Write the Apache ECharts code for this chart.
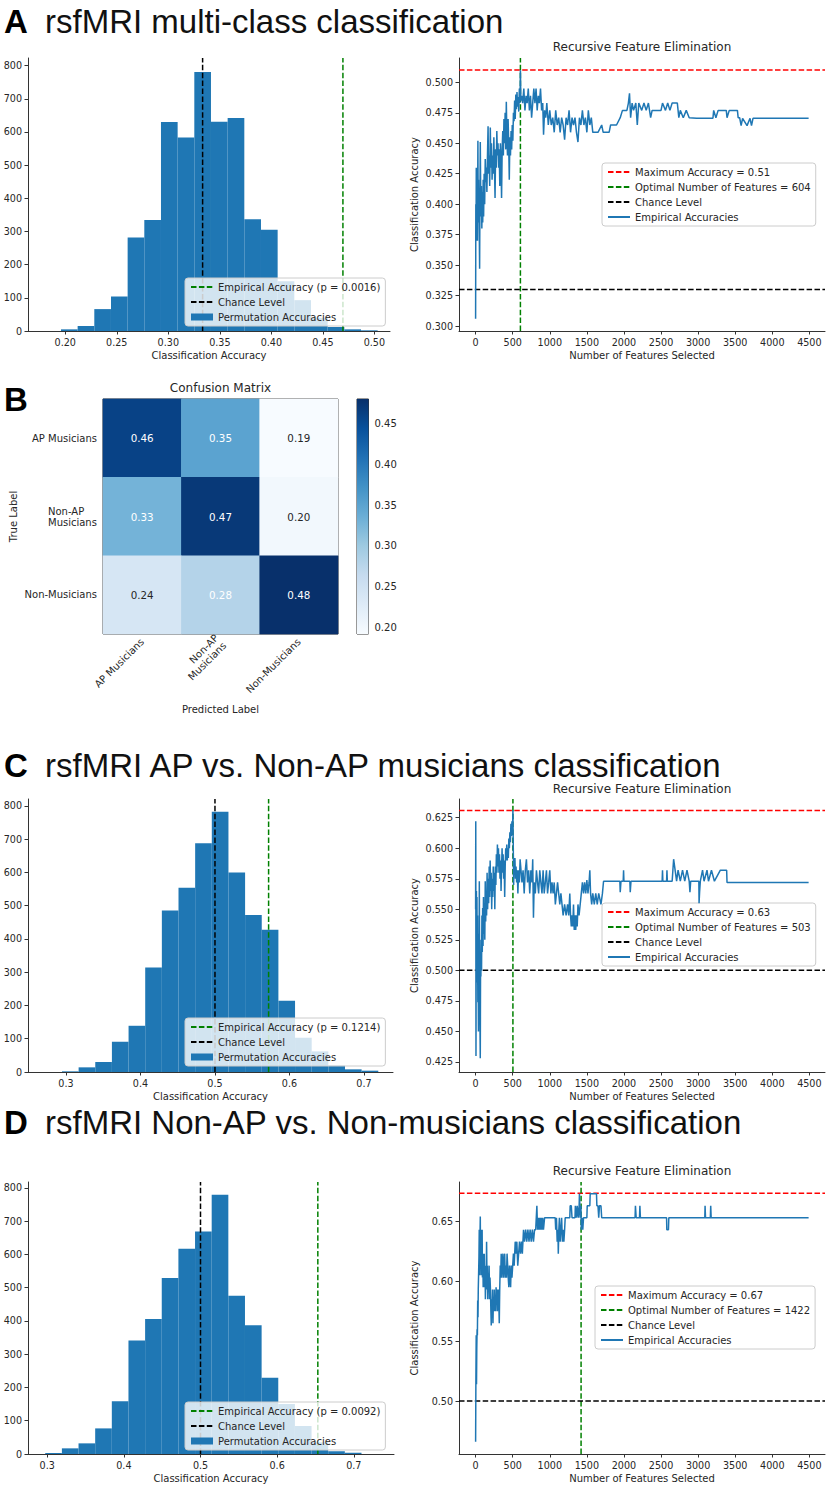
<!DOCTYPE html>
<html>
<head>
<meta charset="utf-8">
<script src="https://cdn.jsdelivr.net/npm/echarts@6/dist/echarts.min.js"></script>
<style>
  html, body { margin: 0; padding: 0; background: #fff; }
  #chart { width: 828px; height: 1488px; }
</style>
</head>
<body>
<div id="chart"></div>
<script>
// ---- permutation histograms (bin start, bin width, counts) ----
var histStartA = 0.1958, histWidthA = 0.01618;
var histCountsA = [5, 15, 66, 104, 282, 335, 630, 583, 781, 631, 642, 337, 305, 150, 93, 40, 12, 5, 2];
var histStartC = 0.2946, histWidthC = 0.02235;
var histCountsC = [2, 14, 30, 91, 139, 314, 486, 554, 688, 783, 600, 472, 428, 214, 103, 62, 20, 8, 4];
var histStartD = 0.2974, histWidthD = 0.02172;
var histCountsD = [3, 17, 32, 77, 159, 341, 406, 529, 617, 669, 780, 476, 387, 229, 150, 84, 35, 8, 4];
var histYTicks = [0, 100, 200, 300, 400, 500, 600, 700, 800];

// empirical accuracy and chance level per panel
var empiricalA = 0.4695, chanceA = 0.3333;
var empiricalC = 0.572, chanceC = 0.5;
var empiricalD = 0.6531, chanceD = 0.5;

// ---- recursive feature elimination curves [features, accuracy] ----
var rfeA = [[0,0.306],[3,0.40],[6,0.37],[9,0.43],[12,0.38],[15,0.42],[18,0.39],[21,0.43],[25,0.37],[28,0.41],
  [31,0.452],[34,0.40],[38,0.42],[42,0.385],[46,0.41],[50,0.375],[54,0.347],[58,0.40],[63,0.451],[67,0.42],
  [72,0.39],[78,0.415],[84,0.38],[90,0.41],[96,0.385],[102,0.42],[108,0.39],[115,0.425],[122,0.40],[130,0.437],
  [137,0.418],[144,0.43],[152,0.41],[160,0.44],[168,0.464],[175,0.425],[182,0.44],[190,0.415],[198,0.463],[206,0.43],
  [214,0.45],[222,0.42],[230,0.44],[238,0.425],[246,0.455],[254,0.43],[262,0.405],[270,0.445],[278,0.43],[286,0.46],
  [294,0.44],[302,0.45],[310,0.43],[318,0.445],[326,0.415],[334,0.45],[342,0.435],[350,0.405],[358,0.445],[366,0.46],
  [374,0.44],[382,0.47],[390,0.45],[398,0.475],[406,0.445],[414,0.484],[422,0.455],[430,0.44],[438,0.47],[446,0.45],
  [454,0.42],[462,0.455],[470,0.44],[478,0.46],[486,0.445],[494,0.465],[502,0.452],[510,0.475],[518,0.468],[526,0.485],
  [534,0.47],[542,0.49],[550,0.478],[558,0.492],[566,0.48],[574,0.488],[582,0.476],[590,0.495],[598,0.483],[604,0.51],
  [610,0.485],[620,0.489],[635,0.483],[650,0.495],[665,0.477],[680,0.489],[695,0.483],[710,0.495],[725,0.477],[740,0.489],
  [755,0.471],[770,0.483],[785,0.495],[800,0.483],[815,0.495],[830,0.477],[845,0.489],[860,0.483],[875,0.495],[890,0.477],
  [905,0.483],[916,0.457],[930,0.477],[945,0.471],[960,0.483],[980,0.465],[1000,0.477],[1020,0.465],[1040,0.471],[1060,0.459],
  [1080,0.477],[1100,0.465],[1120,0.471],[1140,0.459],[1160,0.471],[1180,0.465],[1200,0.453],[1220,0.471],[1240,0.465],[1260,0.477],
  [1280,0.459],[1300,0.471],[1320,0.465],[1340,0.471],[1360,0.459],[1380,0.451],[1400,0.471],[1420,0.465],[1440,0.477],[1460,0.465],
  [1480,0.471],[1500,0.459],[1520,0.477],[1540,0.465],[1560,0.471],[1580,0.459],[1650,0.459],[1700,0.465],[1720,0.459],[1800,0.459],
  [1820,0.465],[1900,0.465],[1950,0.471],[1980,0.477],[2040,0.477],[2060,0.483],[2075,0.491],[2090,0.471],[2110,0.483],[2130,0.477],
  [2160,0.483],[2180,0.465],[2200,0.483],[2240,0.477],[2270,0.483],[2300,0.477],[2330,0.483],[2360,0.471],[2380,0.477],[2500,0.477],
  [2520,0.483],[2560,0.477],[2590,0.483],[2620,0.477],[2650,0.483],[2720,0.483],[2740,0.471],[2760,0.477],[2800,0.471],[2840,0.477],
  [2880,0.471],[2980,0.4705],[3200,0.4705],[3210,0.477],[3240,0.471],[3270,0.477],[3380,0.477],[3390,0.471],[3420,0.477],[3530,0.477],
  [3540,0.471],[3560,0.471],[3580,0.4645],[3600,0.4705],[3660,0.4645],[3700,0.4705],[3720,0.4645],[3740,0.4705],[4490,0.4705]];

var rfeC = [[0,0.55],[2,0.622],[5,0.43],[8,0.52],[11,0.565],[14,0.49],[18,0.56],[22,0.50],[26,0.545],[30,0.474],
  [34,0.53],[38,0.45],[42,0.52],[46,0.49],[50,0.573],[54,0.50],[58,0.46],[63,0.428],[67,0.51],[71,0.495],
  [75,0.525],[80,0.50],[85,0.545],[90,0.515],[95,0.551],[100,0.52],[106,0.56],[112,0.53],[118,0.555],[124,0.525],
  [130,0.573],[136,0.54],[142,0.565],[148,0.545],[155,0.58],[162,0.55],[169,0.575],[176,0.555],[183,0.585],[190,0.56],
  [196,0.59],[203,0.565],[210,0.58],[217,0.55],[224,0.575],[231,0.56],[238,0.585],[245,0.565],[252,0.58],[259,0.55],
  [266,0.585],[273,0.57],[280,0.595],[287,0.58],[294,0.603],[301,0.585],[308,0.6],[315,0.58],[322,0.595],[329,0.575],
  [336,0.59],[343,0.565],[350,0.585],[357,0.6],[364,0.58],[371,0.595],[378,0.575],[385,0.59],[392,0.56],[399,0.585],
  [406,0.6],[413,0.59],[420,0.603],[427,0.59],[434,0.6],[441,0.592],[448,0.608],[455,0.6],[462,0.613],[469,0.605],
  [476,0.62],[483,0.61],[490,0.622],[497,0.612],[503,0.631],[508,0.6],[513,0.57],[518,0.59],[524,0.58],[530,0.592],
  [537,0.575],[545,0.585],[553,0.572],[561,0.582],[570,0.563],[580,0.582],[590,0.572],[600,0.591],[612,0.582],[625,0.572],
  [640,0.582],[655,0.563],[670,0.582],[685,0.591],[700,0.572],[715,0.582],[730,0.563],[745,0.582],[760,0.572],[770,0.591],
  [780,0.543],[790,0.572],[805,0.563],[820,0.582],[835,0.572],[850,0.563],[865,0.582],[880,0.572],[895,0.563],[910,0.582],
  [925,0.563],[940,0.572],[955,0.582],[970,0.563],[985,0.572],[1000,0.582],[1015,0.563],[1030,0.572],[1045,0.563],[1060,0.572],
  [1075,0.554],[1090,0.563],[1105,0.572],[1120,0.563],[1135,0.554],[1150,0.563],[1165,0.554],[1180,0.545],[1200,0.554],[1220,0.545],
  [1240,0.554],[1255,0.545],[1270,0.563],[1280,0.545],[1290,0.536],[1300,0.545],[1310,0.536],[1320,0.554],[1330,0.533],[1340,0.545],
  [1350,0.533],[1360,0.545],[1370,0.536],[1380,0.554],[1395,0.545],[1410,0.554],[1425,0.563],[1440,0.572],[1455,0.563],[1470,0.572],
  [1485,0.563],[1500,0.574],[1515,0.563],[1530,0.572],[1540,0.582],[1550,0.563],[1565,0.554],[1580,0.563],[1600,0.554],[1620,0.563],
  [1640,0.554],[1660,0.563],[1690,0.554],[1710,0.563],[1725,0.573],[1945,0.573],[1950,0.564],[1960,0.573],[1990,0.573],[1995,0.582],
  [2000,0.573],[2080,0.573],[2085,0.564],[2095,0.573],[2515,0.573],[2520,0.582],[2525,0.573],[2575,0.573],[2580,0.582],[2585,0.573],
  [2650,0.573],[2660,0.582],[2670,0.591],[2690,0.582],[2710,0.573],[2730,0.582],[2760,0.573],[2790,0.582],[2820,0.573],[2850,0.582],
  [2880,0.573],[2890,0.564],[2900,0.573],[3010,0.573],[3013,0.555],[3020,0.564],[3030,0.573],[3060,0.582],[3080,0.573],[3120,0.582],
  [3140,0.573],[3180,0.582],[3220,0.573],[3300,0.582],[3385,0.582],[3390,0.572],[4490,0.572]];

var rfeD = [[0,0.466],[4,0.52],[8,0.555],[12,0.514],[16,0.545],[20,0.56],[24,0.555],[28,0.584],[32,0.57],[36,0.594],
  [40,0.605],[45,0.62],[49,0.643],[53,0.605],[58,0.633],[63,0.654],[67,0.613],[71,0.643],[75,0.605],[79,0.633],
  [83,0.613],[88,0.643],[92,0.603],[97,0.623],[102,0.595],[107,0.613],[112,0.603],[117,0.623],[122,0.595],[127,0.613],
  [132,0.585],[137,0.605],[142,0.593],[148,0.633],[153,0.603],[158,0.613],[164,0.585],[170,0.603],[176,0.595],[182,0.613],
  [188,0.585],[194,0.603],[200,0.593],[206,0.575],[211,0.563],[216,0.585],[222,0.575],[228,0.593],[234,0.565],[240,0.585],
  [246,0.575],[252,0.593],[258,0.575],[264,0.585],[270,0.575],[276,0.595],[282,0.585],[288,0.593],[294,0.575],[300,0.585],
  [306,0.593],[312,0.585],[319,0.565],[325,0.593],[332,0.613],[338,0.603],[345,0.623],[352,0.603],[360,0.613],[368,0.623],
  [376,0.603],[384,0.613],[392,0.623],[400,0.603],[408,0.613],[416,0.603],[424,0.623],[432,0.613],[440,0.603],[448,0.595],
  [456,0.613],[464,0.603],[472,0.595],[480,0.613],[490,0.603],[500,0.613],[510,0.623],[520,0.613],[534,0.633],[545,0.623],
  [556,0.633],[568,0.613],[580,0.623],[592,0.633],[605,0.623],[618,0.633],[630,0.623],[646,0.643],[660,0.633],[675,0.643],
  [690,0.633],[705,0.643],[720,0.633],[735,0.643],[750,0.633],[765,0.643],[780,0.633],[795,0.643],[810,0.643],[826,0.663],
  [835,0.643],[845,0.653],[855,0.643],[865,0.653],[875,0.643],[885,0.653],[895,0.643],[905,0.653],[915,0.643],[930,0.653],
  [1073,0.653],[1080,0.643],[1090,0.653],[1100,0.633],[1110,0.643],[1115,0.623],[1122,0.643],[1130,0.653],[1140,0.633],[1150,0.643],
  [1160,0.653],[1170,0.633],[1180,0.643],[1190,0.633],[1200,0.643],[1208,0.653],[1270,0.653],[1275,0.663],[1290,0.663],[1300,0.653],
  [1340,0.653],[1345,0.663],[1360,0.653],[1370,0.663],[1385,0.653],[1396,0.663],[1400,0.673],[1410,0.653],[1420,0.663],[1425,0.643],
  [1435,0.653],[1445,0.643],[1455,0.653],[1500,0.653],[1505,0.663],[1540,0.663],[1545,0.673],[1630,0.673],[1635,0.663],[1650,0.663],
  [1660,0.653],[1670,0.663],[1690,0.663],[1700,0.653],[2150,0.653],[2155,0.663],[2165,0.653],[2210,0.653],[2215,0.663],[2222,0.653],
  [2575,0.653],[2578,0.643],[2600,0.643],[2605,0.653],[3090,0.653],[3094,0.663],[3100,0.653],[3165,0.653],[3170,0.663],[3176,0.653],
  [4490,0.653]];

var maxAccA = 0.5102, optimalA = 604;
var maxAccC = 0.6308, optimalC = 503;
var maxAccD = 0.6735, optimalD = 1422;
var rfeXTicks = [0, 500, 1000, 1500, 2000, 2500, 3000, 3500, 4000, 4500];

// ---- confusion matrix ----
var classNames = ['AP Musicians', 'Non-AP\nMusicians', 'Non-Musicians'];
var confusion = [
  [0.46, 0.35, 0.19],
  [0.33, 0.47, 0.20],
  [0.24, 0.28, 0.48]
];
var colorbarMin = 0.1923, colorbarMax = 0.4797;
var colorbarTicks = [0.20, 0.25, 0.30, 0.35, 0.40, 0.45];

var blue = '#1f77b4';
var ink = '#262626';
var fontMpl = 'DejaVu Sans';
var fontHead = 'Liberation Sans, Arial, sans-serif';
var dash = [5.5, 2.4];
var blues = ['#f7fbff', '#deebf7', '#c6dbef', '#9ecae1', '#6baed6', '#4292c6', '#2171b5', '#08519c', '#08306b'];

var grids = [], xAxes = [], yAxes = [], series = [], legends = [], graphics = [];

function addGrid(g) {
  g.outerBoundsMode = 'none';
  grids.push(g);
  return grids.length - 1;
}

function valAxis(gi, min, max, ticks, dec, name, gap) {
  return {
    gridIndex: gi, type: 'value', min: min, max: max,
    splitLine: { show: false },
    axisLine: { show: true, onZero: false, lineStyle: { color: '#333', width: 1 } },
    axisTick: { show: true, length: 3.5, customValues: ticks, lineStyle: { color: '#333' } },
    axisLabel: {
      customValues: ticks, margin: 6, color: ink, fontFamily: fontMpl, fontSize: 9.6,
      formatter: function (v) { return dec ? v.toFixed(dec) : String(v); }
    },
    name: name, nameLocation: 'middle', nameGap: gap,
    nameTextStyle: { color: ink, fontFamily: fontMpl, fontSize: 10 }
  };
}

function legendBox(left, top, names) {
  return {
    left: left, top: top, orient: 'vertical', align: 'left',
    padding: [3, 5, 3, 5], itemGap: 3, itemWidth: 22, itemHeight: 7,
    backgroundColor: 'rgba(255,255,255,0.8)', borderColor: '#cccccc', borderWidth: 1, borderRadius: 3,
    textStyle: { color: ink, fontFamily: fontMpl, fontSize: 10, lineHeight: 12 },
    // line legends: hide the marker symbol, keep only the (dashed) line
    itemStyle: { opacity: 0 },
    selectedMode: false,
    data: names
  };
}

function vline(name, gi, x, y0, y1, color, z) {
  return {
    type: 'line', name: name, xAxisIndex: gi, yAxisIndex: gi, data: [[x, y0], [x, y1]],
    symbol: 'none', lineStyle: { color: color, width: 1.5, type: dash }, itemStyle: { color: color },
    z: z, silent: true
  };
}
function hline(name, gi, y, x0, x1, color, z) {
  return {
    type: 'line', name: name, xAxisIndex: gi, yAxisIndex: gi, data: [[x0, y], [x1, y]],
    symbol: 'none', lineStyle: { color: color, width: 1.5, type: dash }, itemStyle: { color: color },
    z: z, silent: true
  };
}

function histRect(params, api) {
  var p0 = api.coord([api.value(0), api.value(2)]);
  var p1 = api.coord([api.value(1), 0]);
  return {
    type: 'rect',
    shape: { x: p0[0], y: p0[1], width: p1[0] - p0[0], height: p1[1] - p0[1] },
    style: { fill: blue }
  };
}

function addHist(p) {
  var gi = addGrid(p.grid);
  xAxes.push(valAxis(gi, p.xMin, p.xMax, p.xTicks, p.dec, 'Classification Accuracy', 19));
  yAxes.push(valAxis(gi, 0, p.yMax, histYTicks, 0, '', 0));
  var bins = p.counts.map(function (n, i) {
    return [p.start + i * p.width, p.start + (i + 1) * p.width, n];
  });
  series.push({
    type: 'custom', name: 'Permutation Accuracies', xAxisIndex: gi, yAxisIndex: gi,
    data: bins, encode: { x: [0, 1], y: 2 }, renderItem: histRect,
    itemStyle: { color: blue }, z: 2, silent: true
  });
  series.push(vline(p.empLabel, gi, p.emp, 0, p.yMax, 'green', 3));
  series.push(vline('Chance Level', gi, p.chance, 0, p.yMax, '#000', 3));
  legends.push(legendBox(p.legend[0], p.legend[1], [
    p.empLabel, 'Chance Level',
    { name: 'Permutation Accuracies', icon: 'rect', itemStyle: { opacity: 1, color: blue } }
  ]));
}

function addRfe(p) {
  var gi = addGrid(p.grid);
  xAxes.push(valAxis(gi, p.xMin, p.xMax, rfeXTicks, 0, 'Number of Features Selected', 19));
  yAxes.push(valAxis(gi, p.yMin, p.yMax, p.yTicks, p.dec, 'Classification Accuracy', 40));
  var maxName = 'Maximum Accuracy = ' + p.maxAcc.toFixed(2);
  var optName = 'Optimal Number of Features = ' + p.optimal;
  series.push(hline(maxName, gi, p.maxAcc, p.xMin, p.xMax, 'red', 3));
  series.push(vline(optName, gi, p.optimal, p.yMin, p.yMax, 'green', 3));
  series.push(hline('Chance Level', gi, p.chance, p.xMin, p.xMax, '#000', 3));
  series.push({
    type: 'line', name: 'Empirical Accuracies', xAxisIndex: gi, yAxisIndex: gi, data: p.data,
    symbol: 'none', lineStyle: { color: blue, width: 1.5 }, itemStyle: { color: blue }, z: 4, silent: true
  });
  legends.push(legendBox(p.legend[0], p.legend[1], [maxName, optName, 'Chance Level', 'Empirical Accuracies']));
  graphics.push({
    type: 'text', x: p.grid.left + p.grid.width / 2, y: p.titleY,
    style: { text: 'Recursive Feature Elimination', fill: ink, font: '12px "DejaVu Sans"', textAlign: 'center', textVerticalAlign: 'middle' }
  });
}

function heading(letter, text, y) {
  graphics.push({ type: 'text', x: 4, y: y,
    style: { text: letter, fill: '#000', font: 'bold 33px ' + fontHead, textVerticalAlign: 'middle' } });
  if (text) {
    graphics.push({ type: 'text', x: 45, y: y,
      style: { text: text, fill: '#111', font: '33px ' + fontHead, textVerticalAlign: 'middle' } });
  }
}

// ---- panel A ----
heading('A', 'rsfMRI multi-class classification', 21);
addHist({
  grid: { left: 28, top: 58, width: 362, height: 273 },
  xMin: 0.1638, xMax: 0.5152, yMax: 823, xTicks: [0.20, 0.25, 0.30, 0.35, 0.40, 0.45, 0.50], dec: 2,
  start: histStartA, width: histWidthA, counts: histCountsA,
  emp: empiricalA, chance: chanceA, empLabel: 'Empirical Accuracy (p = 0.0016)', legend: [185, 278]
});
addRfe({
  grid: { left: 459, top: 58, width: 366, height: 273 }, titleY: 47,
  xMin: -224, xMax: 4711, yMin: 0.2959, yMax: 0.52,
  yTicks: [0.300, 0.325, 0.350, 0.375, 0.400, 0.425, 0.450, 0.475, 0.500], dec: 3,
  maxAcc: maxAccA, optimal: optimalA, chance: 0.33, data: rfeA, legend: [602, 163]
});

// ---- panel B: confusion matrix ----
heading('B', '', 399);
var giHeat = addGrid({ left: 103, top: 399, width: 235, height: 235, show: true, borderColor: '#333', borderWidth: 1 });
xAxes.push({
  gridIndex: giHeat, type: 'category', data: classNames,
  axisLine: { show: false }, splitLine: { show: false },
  axisTick: { alignWithLabel: true, length: 3.5, lineStyle: { color: '#333' } },
  axisLabel: { interval: 0, rotate: 45, margin: 6, color: ink, fontFamily: fontMpl, fontSize: 10, lineHeight: 11 },
  name: 'Predicted Label', nameLocation: 'middle', nameGap: 70,
  nameTextStyle: { color: ink, fontFamily: fontMpl, fontSize: 10 }
});
yAxes.push({
  gridIndex: giHeat, type: 'category', data: classNames, inverse: true,
  axisLine: { show: false }, splitLine: { show: false },
  axisTick: { alignWithLabel: true, length: 3.5, lineStyle: { color: '#333' } },
  axisLabel: {
    interval: 0, margin: 6, color: ink, fontFamily: fontMpl, fontSize: 10, lineHeight: 11,
    // two-line label: lines left-aligned inside the block, as matplotlib does
    formatter: function (v) {
      return v.indexOf('\n') < 0 ? v : v.split('\n').map(function (s) { return '{l|' + s + '}'; }).join('\n');
    },
    rich: { l: { align: 'left', width: 49, fontFamily: fontMpl, fontSize: 10, lineHeight: 11, color: ink } }
  },
  name: 'True Label', nameLocation: 'middle', nameGap: 85,
  nameTextStyle: { color: ink, fontFamily: fontMpl, fontSize: 10 }
});
// text colour switches at half of the largest cell value
var textThreshold = Math.max.apply(null, confusion.map(function (r) { return Math.max.apply(null, r); })) / 2;
var heatData = [];
confusion.forEach(function (row, r) {
  row.forEach(function (v, c) {
    heatData.push({ value: [c, r, v], label: { color: v > textThreshold + 1e-9 ? '#fff' : ink } });
  });
});
var heatIndex = series.length;
series.push({
  type: 'heatmap', xAxisIndex: giHeat, yAxisIndex: giHeat, data: heatData, silent: true,
  label: { show: true, fontFamily: fontMpl, fontSize: 10.3, formatter: function (p) { return p.value[2].toFixed(2); } }
});
graphics.push({
  type: 'text', x: 103 + 235 / 2, y: 388,
  style: { text: 'Confusion Matrix', fill: ink, font: '12px "DejaVu Sans"', textAlign: 'center', textVerticalAlign: 'middle' }
});

// colorbar
var giBar = addGrid({ left: 357, top: 399, width: 11.5, height: 235, show: true, borderColor: '#333', borderWidth: 1 });
xAxes.push({ gridIndex: giBar, type: 'value', min: 0, max: 1, show: false });
yAxes.push({
  gridIndex: giBar, type: 'value', position: 'right', min: colorbarMin, max: colorbarMax,
  splitLine: { show: false }, axisLine: { show: false },
  axisTick: { show: true, length: 3.5, customValues: colorbarTicks, lineStyle: { color: '#333' } },
  axisLabel: { customValues: colorbarTicks, margin: 6, color: ink, fontFamily: fontMpl, fontSize: 10,
    formatter: function (v) { return v.toFixed(2); } }
});
series.push({
  type: 'custom', xAxisIndex: giBar, yAxisIndex: giBar, silent: true,
  data: [[0, colorbarMin, 1, colorbarMax]],
  renderItem: function (params, api) {
    var p0 = api.coord([api.value(0), api.value(3)]);
    var p1 = api.coord([api.value(2), api.value(1)]);
    var stops = blues.slice().reverse().map(function (c, i) { return { offset: i / (blues.length - 1), color: c }; });
    return {
      type: 'rect',
      shape: { x: p0[0], y: p0[1], width: p1[0] - p0[0], height: p1[1] - p0[1] },
      style: { fill: new echarts.graphic.LinearGradient(0, 0, 0, 1, stops) }
    };
  }
});

// ---- panel C ----
heading('C', 'rsfMRI AP vs. Non-AP musicians classification', 765);
addHist({
  grid: { left: 28, top: 799, width: 365, height: 273 },
  xMin: 0.249, xMax: 0.739, yMax: 821, xTicks: [0.3, 0.4, 0.5, 0.6, 0.7], dec: 1,
  start: histStartC, width: histWidthC, counts: histCountsC,
  emp: empiricalC, chance: chanceC, empLabel: 'Empirical Accuracy (p = 0.1214)', legend: [185, 1018]
});
addRfe({
  grid: { left: 459, top: 799, width: 366, height: 273 }, titleY: 789,
  xMin: -224, xMax: 4711, yMin: 0.4168, yMax: 0.6403,
  yTicks: [0.425, 0.450, 0.475, 0.500, 0.525, 0.550, 0.575, 0.600, 0.625], dec: 3,
  maxAcc: maxAccC, optimal: optimalC, chance: 0.5, data: rfeC, legend: [602, 903]
});

// ---- panel D ----
heading('D', 'rsfMRI Non-AP vs. Non-musicians classification', 1122);
addHist({
  grid: { left: 28, top: 1182, width: 366, height: 272 },
  xMin: 0.2749, xMax: 0.7525, yMax: 818, xTicks: [0.3, 0.4, 0.5, 0.6, 0.7], dec: 1,
  start: histStartD, width: histWidthD, counts: histCountsD,
  emp: empiricalD, chance: chanceD, empLabel: 'Empirical Accuracy (p = 0.0092)', legend: [185, 1402]
});
addRfe({
  grid: { left: 459, top: 1182, width: 366, height: 272 }, titleY: 1171,
  xMin: -224, xMax: 4711, yMin: 0.4558, yMax: 0.6828,
  yTicks: [0.50, 0.55, 0.60, 0.65], dec: 2,
  maxAcc: maxAccD, optimal: optimalD, chance: 0.5, data: rfeD, legend: [595, 1286]
});

var chart = echarts.init(document.getElementById('chart'), null, { renderer: 'svg' });
chart.setOption({
  animation: false,
  backgroundColor: '#fff',
  grid: grids,
  xAxis: xAxes,
  yAxis: yAxes,
  legend: legends,
  visualMap: {
    type: 'continuous', show: false, seriesIndex: heatIndex, dimension: 2,
    min: colorbarMin, max: colorbarMax, inRange: { color: blues }
  },
  graphic: graphics,
  series: series
});
</script>
</body>
</html>
